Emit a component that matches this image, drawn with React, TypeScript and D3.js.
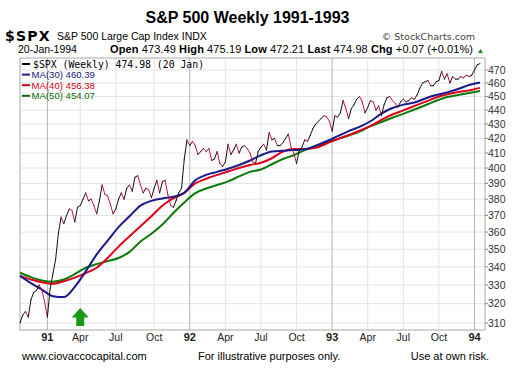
import React from 'react';
import * as d3 from 'd3';

// weekly closes, $SPX, week ending 2-Nov-1990 .. 20-Jan-1994
const closes = [
  310, 314, 316, 313, 322, 326, 327, 330, 327, 321, 313, 328, 336,
  344, 359, 369, 365, 370, 374, 373, 366, 375, 376, 380, 384, 379,
  380, 376, 371, 379, 389, 383, 382, 377, 371, 374, 380, 384, 380,
  387, 389, 385, 394, 395, 389, 384, 387, 386, 381, 387, 392, 384,
  391, 392, 383, 376, 375, 379, 384, 387, 406, 419, 415, 418, 415,
  409, 411, 413, 411, 413, 405, 406, 411, 403, 401, 404, 416, 409,
  412, 416, 410, 414, 415, 413, 410, 404, 403, 411, 414, 416, 412,
  424, 419, 420, 415, 415, 417, 420, 423, 414, 410, 403, 412, 414,
  419, 418, 422, 427, 430, 432, 434, 436, 435, 432, 425, 436, 435,
  438, 447, 441, 434, 441, 444, 448, 450, 446, 438, 442, 447, 446,
  440, 443, 436, 444, 449, 450, 447, 445, 442, 446, 448, 446, 447,
  449, 448, 451, 456, 460, 461, 462, 458, 458, 461, 462, 469, 463,
  467, 460, 465, 463, 463, 465, 464, 466, 465, 466, 470, 474, 475,
];

// moving averages read every 4th week
const ma30 = [
  335, 331, 327.5, 324, 323.5, 329, 337.5, 347, 355, 363, 369.5, 376, 379,
  380.5, 381.5, 384, 392, 395.5, 397.5, 399.5, 402, 405, 408.5, 411, 411.5,
  412, 412.5, 415, 418, 421.5, 425, 428, 432, 437.5, 441.5, 444, 445.5,
  448.5, 451, 453, 455.5, 458.5, 460.4,
];
const ma40 = [
  335, 333, 331.5, 330.7, 332, 334, 336.5, 339.5, 345, 351.5, 357.5, 363.5,
  369.5, 376, 380.5, 384, 390, 393, 395.5, 397.7, 400, 402, 403.5, 406.5,
  411, 412.7, 412.8, 413.5, 416.5, 419.5, 422.3, 425.3, 428.7, 433, 436.8,
  439.8, 443, 446, 449.2, 451.6, 453.3, 454.5, 456.4,
];
const ma50 = [
  336.7, 334.3, 332.5, 331.8, 333, 336, 339.5, 341.5, 343.2, 345, 348.5,
  354.5, 359, 364.5, 371.5, 378, 383.8, 386.8, 389, 391.3, 394.5, 397.5, 399,
  402.5, 406, 408.5, 412, 414.5, 417, 419.5, 422, 424.8, 428.5, 431.5, 434.5,
  437.3, 440.4, 443.5, 446.8, 449.6, 451, 452.5, 454.1,
];

const yTicks = [310, 320, 330, 340, 350, 360, 370, 380, 390, 400, 410, 420, 430, 440, 450, 460, 470];
const xLabels = ['91', 'Apr', 'Jul', 'Oct', '92', 'Apr', 'Jul', 'Oct', '93', 'Apr', 'Jul', 'Oct', '94'];

const legendRows = [
  { label: '$SPX (Weekly) 474.98 (20 Jan)', color: '#000', mono: true },
  { label: 'MA(30) 460.39', color: '#1a1a80', mono: false },
  { label: 'MA(40) 456.38', color: '#d00010', mono: false },
  { label: 'MA(50) 454.07', color: '#0a6a0a', mono: false },
];

const SANS = "'Liberation Sans', Arial, sans-serif";

const App = () => {
  const width = 522;
  const height = 372;
  const plotLeft = 20;
  const plotRight = 485;
  const plotTop = 58;
  const plotBottom = 330;

  // weekly bars, fridays; last bar is the thursday 20-Jan-1994
  const dates = d3.timeFriday.range(new Date(1990, 10, 2), new Date(1994, 0, 15));
  dates.push(new Date(1994, 0, 20));

  const x = d3.scaleLinear().domain([0, closes.length - 1]).range([20, 480]);
  const y = d3.scaleLog().domain([310, 470]).range([323, 70]);

  // grid lines at the first bar whose week starts in a new quarter
  const tickIdx: number[] = [];
  dates.forEach((d, i) => {
    if (i === 0) return;
    const m = d3.timeMonday.floor(d).getMonth();
    const pm = d3.timeMonday.floor(dates[i - 1]).getMonth();
    if (m !== pm && m % 3 === 0) tickIdx.push(i);
  });
  const ticks = tickIdx.map((idx, k) => ({ idx, label: xLabels[k], year: k % 4 === 0 }));

  const maLine = d3.line<number>()
    .x((_, k) => x(k * 4))
    .y(d => y(d))
    .curve(d3.curveMonotoneX);

  const arrowX = x(ticks[1].idx);

  return (
    <svg width={width} height={height} style={{ position: 'absolute', left: 0, top: 0, background: '#fff' }}>
      <rect width={width} height={height} fill="#fff" />

      {/* header */}
      <text x={247.5} y={23} textAnchor="middle" fontFamily={SANS} fontWeight="bold" fontSize={16}>
        S&amp;P 500 Weekly 1991-1993
      </text>
      <text x={5} y={41} fontFamily="'DejaVu Sans', sans-serif" fontWeight="bold" fontSize={14} letterSpacing={1.2}>
        $SPX
      </text>
      <text x={57} y={40} fontFamily={SANS} fontSize={10.5}>
        S&amp;P 500 Large Cap Index  INDX
      </text>
      <text x={475} y={40} textAnchor="end" fontFamily="'DejaVu Sans', sans-serif" fontSize={9.5} fill="#444">
        © StockCharts.com
      </text>
      <text x={18} y={53} fontFamily={SANS} fontSize={10.5}>20-Jan-1994</text>
      <text x={110} y={53} fontFamily={SANS} fontSize={11} textLength={363} lengthAdjust="spacing">
        <tspan fontWeight="bold">Open</tspan> 473.49 <tspan fontWeight="bold">High</tspan> 475.19{' '}
        <tspan fontWeight="bold">Low</tspan> 472.21 <tspan fontWeight="bold">Last</tspan> 474.98{' '}
        <tspan fontWeight="bold">Chg</tspan> +0.07 (+0.01%)
      </text>
      <path d="M478,53 L480.5,49 L483,53 Z" fill="#1a8a1a" />

      {/* grid */}
      {yTicks.map(t => (
        <line key={`gy-${t}`} x1={plotLeft} x2={plotRight} y1={y(t)} y2={y(t)} stroke="#e4e4e4" />
      ))}
      {ticks.map(t => (
        <line
          key={`gx-${t.idx}`}
          x1={x(t.idx)} x2={x(t.idx)} y1={plotTop} y2={plotBottom}
          stroke={t.year ? '#b4b4b4' : '#e4e4e4'}
        />
      ))}
      <rect x={plotLeft} y={plotTop} width={plotRight - plotLeft} height={plotBottom - plotTop}
        fill="none" stroke="#a8a8a8" />

      {/* moving averages */}
      <path d={maLine(ma50) || ''} fill="none" stroke="#0a7a0a" strokeWidth={2} />
      <path d={maLine(ma40) || ''} fill="none" stroke="#e00018" strokeWidth={2} />
      <path d={maLine(ma30) || ''} fill="none" stroke="#1a1a8c" strokeWidth={2} />

      {/* price: black up weeks, crimson down weeks */}
      {closes.slice(1).map((v, k) => (
        <line
          key={`p-${k}`}
          x1={x(k)} y1={y(closes[k])} x2={x(k + 1)} y2={y(v)}
          stroke={v >= closes[k] ? '#111' : '#c0143c'}
          strokeWidth={1}
          strokeLinecap="round"
        />
      ))}

      {/* legend */}
      {legendRows.map((r, k) => (
        <g key={`lg-${k}`} transform={`translate(0, ${64 + k * 10.6})`}>
          <line x1={22} x2={30} y1={0} y2={0} stroke={r.color} strokeWidth={2} />
          <text
            x={r.mono ? 33 : 31.5} y={3.5}
            fontFamily={r.mono ? "'DejaVu Sans Mono', monospace" : SANS}
            fontSize={r.mono ? 9.8 : 9.6}
            fill={r.color}
          >
            {r.label}
          </text>
        </g>
      ))}

      {/* right axis */}
      {yTicks.map(t => (
        <g key={`ya-${t}`}>
          <line x1={plotRight} x2={plotRight + 3} y1={y(t)} y2={y(t)} stroke="#888" />
          <text x={488} y={y(t) + 3.7} fontFamily={SANS} fontSize={10.5} fill="#333">{t}</text>
        </g>
      ))}

      {/* bottom axis */}
      {ticks.map(t => (
        <text
          key={`xa-${t.idx}`}
          x={x(t.idx)} y={341}
          textAnchor="middle"
          fontFamily={SANS}
          fontSize={t.year ? 11 : 10.5}
          fontWeight={t.year ? 'bold' : 'normal'}
          fill="#222"
        >
          {t.label}
        </text>
      ))}

      {/* green arrow */}
      <path
        d={`M${arrowX},308 L${arrowX + 8.5},317.5 L${arrowX + 4},317.5 L${arrowX + 4},326 L${arrowX - 4},326 L${arrowX - 4},317.5 L${arrowX - 8.5},317.5 Z`}
        fill="#169a16"
      />

      {/* footer */}
      <text x={22} y={360} fontFamily={SANS} fontSize={11}>www.ciovaccocapital.com</text>
      <text x={198} y={360} fontFamily={SANS} fontSize={11}>For illustrative purposes only.</text>
      <text x={489} y={360} textAnchor="end" fontFamily={SANS} fontSize={11}>Use at own risk.</text>
    </svg>
  );
};

export default App;
